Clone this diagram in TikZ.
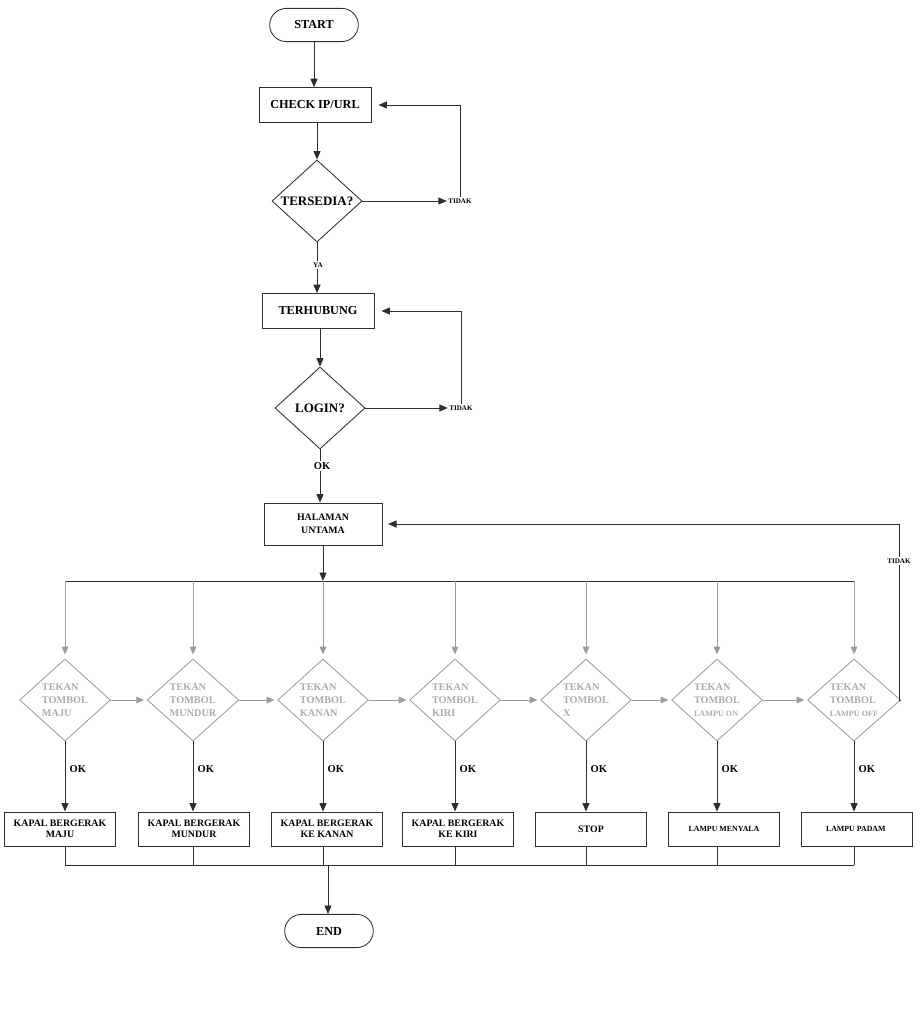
\documentclass[tikz,border=0pt]{standalone}
\usepackage{fontspec}
\setmainfont{Liberation Serif}
\usetikzlibrary{positioning,calc,shapes.geometric,shapes.misc,arrows.meta}
\definecolor{Ink}{HTML}{2E2E2E}
\definecolor{Soft}{HTML}{9C9C9C}
\definecolor{SoftText}{HTML}{ABABAB}

\tikzset{
	line/.style={draw=Ink, line width=0.6pt},
	flow/.style={line, -{Triangle[length=6pt,width=5pt]}},
	softflow/.style={draw=Soft, line width=0.6pt, -{Triangle[length=5.5pt,width=4.8pt]}},
	terminal/.style={
		draw=Ink,
		line width=0.6pt,
		rounded rectangle,
		minimum width=2.45cm,
		minimum height=0.83cm,
		font=\fontsize{8.7}{10}\selectfont\bfseries
	},
	process/.style={
		draw=Ink,
		line width=0.6pt,
		rectangle,
		minimum width=2.8cm,
		minimum height=0.87cm,
		align=center,
		font=\fontsize{8.7}{10}\selectfont\bfseries
	},
	decision/.style={
		draw=Ink,
		line width=0.6pt,
		diamond,
		aspect=1.2,
		inner sep=0pt,
		minimum width=2.25cm,
		minimum height=2.05cm,
		font=\fontsize{9.2}{10}\selectfont\bfseries
	},
	choice/.style={
		decision,
		draw=Soft,
		text=SoftText,
		align=left,
		inner sep=1pt,
		font=\fontsize{7.3}{9}\selectfont\bfseries
	},
	result/.style={
		process,
		minimum width=2.78cm,
		minimum height=0.85cm,
		font=\fontsize{7}{8}\selectfont\bfseries
	},
	tag/.style={inner sep=1pt, font=\fontsize{5}{6}\selectfont\bfseries},
	oktag/.style={inner sep=1pt, font=\fontsize{7.5}{8}\selectfont\bfseries}
}

\begin{document}
\begin{tikzpicture}[x=0.025cm, y=-0.025cm]
	\useasboundingbox (0,0) rectangle (919,1024);

	\node[terminal] (start) at (314,25) {START};
	\node[process] (check) at (315,105) {CHECK IP/URL};
	\node[decision] (tersedia) at (317,201) {TERSEDIA?};
	\node[tag] (tidakA) at (460,201) {TIDAK};
	\node[tag] (ya) at (318,265) {YA};
	\node[process] (terhubung) at (318,311) {TERHUBUNG};
	\node[decision] (login) at (320,408) {LOGIN?};
	\node[tag] (tidakB) at (461,408) {TIDAK};
	\node[oktag] (ok) at (322,466) {OK};
	\node[process, minimum width=2.95cm, minimum height=1.05cm, font=\fontsize{7}{9}\selectfont\bfseries] (halaman) at (323,524) {HALAMAN\\UNTAMA};
	\node[tag] (tidakC) at (899,561) {TIDAK};
	\node[terminal] (end) at (329,931) {END};

	\draw[flow] (start.south) -- (start.south |- check.north);
	\draw[flow] (tersedia.north |- check.south) -- (tersedia.north);
	\draw[flow] (tersedia.east) -- (tidakA.west);
	\draw[flow, shorten >=5pt] (tidakA.north) |- (check.east);
	\draw[line] (tersedia.south) -- (tersedia.south |- ya.north);
	\draw[flow] (tersedia.south |- ya.south) -- (tersedia.south |- terhubung.north);
	\draw[flow] (login.north |- terhubung.south) -- (login.north);
	\draw[flow] (login.east) -- (tidakB.west);
	\draw[flow, shorten >=5pt] (tidakB.north) |- (terhubung.east);
	\draw[line] (login.south) -- (login.south |- ok.north);
	\draw[flow] (login.south |- ok.south) -- (login.south |- halaman.north);

	\foreach \n/\dx/\kx/\dtext/\ktext in {
		1/65/60/{TEKAN\\TOMBOL\\MAJU}/{KAPAL BERGERAK\\MAJU},
		2/193/194/{TEKAN\\TOMBOL\\MUNDUR}/{KAPAL BERGERAK\\MUNDUR},
		3/323/327/{TEKAN\\TOMBOL\\KANAN}/{KAPAL BERGERAK\\KE KANAN},
		4/455/458/{TEKAN\\TOMBOL\\KIRI}/{KAPAL BERGERAK\\KE KIRI},
		5/586/591/{TEKAN\\TOMBOL\\X}/{STOP},
		6/717/724/{TEKAN\\TOMBOL\\{\fontsize{5.8}{6.5}\selectfont LAMPU ON}}/{\fontsize{5.6}{7}\selectfont LAMPU MENYALA},
		7/854/857/{TEKAN\\TOMBOL\\{\fontsize{5.8}{6.5}\selectfont LAMPU OFF}}/{\fontsize{5.6}{7}\selectfont LAMPU PADAM}
	}{
		\node[choice] (d\n) at (\dx,700) {\dtext};
		\node[result] (k\n) at (\kx,829) {\ktext};
		\coordinate (t\n) at (\dx,581);
		\coordinate (b\n) at (\dx,865);
	}

	\draw[flow] (halaman.south) -- (halaman.south |- t1);
	\draw[line] (t1) -- (t7);
	\foreach \n in {1,...,7}{
		\draw[softflow, shorten >=3pt] (t\n) -- (d\n.north);
		\draw[flow] (d\n.south) -- node[oktag, right=2pt, pos=0.4] (ok\n) {OK} (d\n.south |- k\n.north);
		\draw[line] (k\n.south -| d\n) -- (b\n);
	}
	\foreach \a/\b in {1/2,2/3,3/4,4/5,5/6,6/7}
		\draw[softflow, shorten >=2pt] (d\a.east) -- (d\b.west);
	\draw[line] (b1) -- (b7);

	\coordinate (join) at (328,865);
	\draw[flow] (join) -- (join |- end.north);

	\draw[line] (d7.east) -| (tidakC.south);
	\draw[flow, shorten >=4pt] (tidakC.north) |- (halaman.east);
\end{tikzpicture}
\end{document}
